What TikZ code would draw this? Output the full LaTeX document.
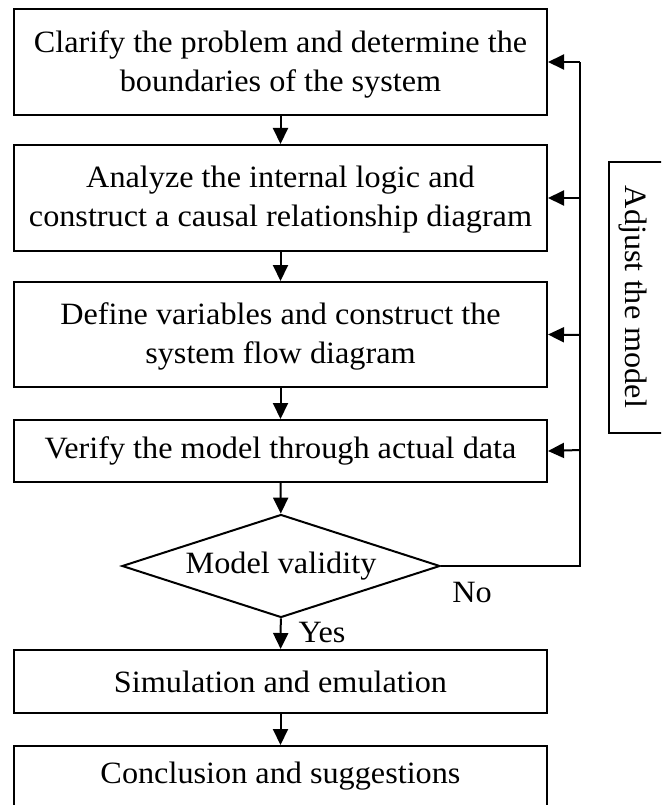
\documentclass[tikz,border=0pt]{standalone}
\usepackage{fontspec}
\setmainfont{Liberation Serif}[FakeStretch=1.04]
\usetikzlibrary{shapes.geometric,arrows.meta}
\begin{document}
\begin{tikzpicture}[x=1pt,y=-1pt,
  every node/.style={font=\fontsize{31}{39}\selectfont},
  stepbox/.style={draw, line width=2pt, minimum width=533pt, inner sep=0pt, align=center},
  decide/.style={draw, diamond, aspect=3.09, line width=2pt, minimum width=318pt, minimum height=103pt, inner sep=0pt},
  flow/.style={line width=2pt, -{Triangle[length=16pt,width=15pt]}},
  plain/.style={line width=2pt}]
\useasboundingbox (0,0) rectangle (661,805);
\clip (0,0) rectangle (661,805);
\node[stepbox, minimum height=106pt] (b1) at (280.5,62) {};
\node[align=center] (b1t) at (280.5,64) {Clarify the problem and determine the\\boundaries of the system};
\node[stepbox, minimum height=106pt] (b2) at (280.5,198) {};
\node[align=center] (b2t) at (280.5,200) {Analyze the internal logic and\\construct a causal relationship diagram};
\node[stepbox, minimum height=105pt] (b3) at (280.5,334.5) {};
\node[align=center] (b3t) at (280.5,336.5) {Define variables and construct the\\system flow diagram};
\node[stepbox, minimum height=62pt] (b4) at (280.5,451) {Verify the model through actual data};
\node[decide] (d) at (281,566) {Model validity};
\node[stepbox, minimum height=63pt] (b5) at (280.5,681.5) {Simulation and emulation};
\node[stepbox, minimum height=66pt, anchor=north] (b6) at (280.5,745) {};
\node (b6t) at (280.5,776) {Conclusion and suggestions};
\node[draw, line width=2pt, minimum width=80pt, minimum height=271pt, anchor=north west] (adj) at (608,161) {};
\node[rotate=-90] (adjt) at (633,297) {Adjust the model};
\node (no) at (472,592) {No};
\node (yes) at (322,632) {Yes};
\draw[flow] (b1) -- (b2);
\draw[flow] (b2) -- (b3);
\draw[flow] (b3) -- (b4);
\draw[flow] (b4) -- (d);
\draw[flow] (d) -- (b5);
\draw[flow] (b5) -- (b6);
\coordinate (c0) at (580,566);
\coordinate (c1) at (580,62);
\coordinate (c2) at (580,198);
\coordinate (c3) at (580,335);
\coordinate (c4) at (580,450);
\draw[plain] (d.east) -- (c0) -- (c1);
\draw[flow] (c1) -- (b1.east);
\draw[flow] (c2) -- (b2.east);
\draw[flow] (c3) -- (b3.east);
\draw[flow] (c4) -- (b4.east);
\end{tikzpicture}
\end{document}
